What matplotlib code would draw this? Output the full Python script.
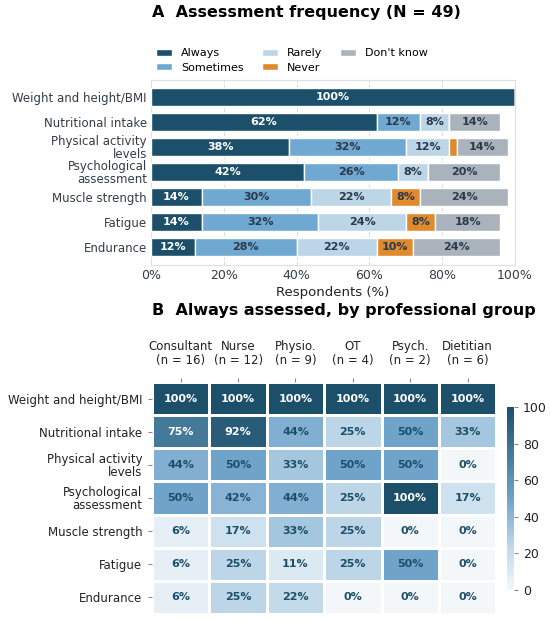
import matplotlib.pyplot as plt
import numpy as np
from matplotlib.colors import LinearSegmentedColormap

# panel A data (% of respondents)
items = ["Weight and height/BMI", "Nutritional intake", "Physical activity\nlevels",
         "Psychological\nassessment", "Muscle strength", "Fatigue", "Endurance"]
categories = ["Always", "Sometimes", "Rarely", "Never", "Don't know"]
always = [100, 62, 38, 42, 14, 14, 12]
sometimes = [0, 12, 32, 26, 30, 32, 28]
rarely = [0, 8, 12, 8, 22, 24, 22]
never = [0, 0, 2, 0, 8, 8, 10]
dont_know = [0, 14, 14, 20, 24, 18, 24]
cat_colors = ["#1b4f6a", "#6fa8d0", "#bcd6e8", "#e08a2e", "#aab3bc"]

# panel B data (% always assessed)
groups = ["Consultant\n(n = 16)", "Nurse\n(n = 12)", "Physio.\n(n = 9)",
          "OT\n(n = 4)", "Psych.\n(n = 2)", "Dietitian\n(n = 6)"]
heat = np.array([
    [100, 100, 100, 100, 100, 100],
    [75, 92, 44, 25, 50, 33],
    [44, 50, 33, 50, 50, 0],
    [50, 42, 44, 25, 100, 17],
    [6, 17, 33, 25, 0, 0],
    [6, 25, 11, 25, 50, 0],
    [6, 25, 22, 0, 0, 0],
])

dark = "#1b4f6a"
txt = "#333c46"

fig = plt.figure(figsize=(5.5, 6.19), dpi=100)

# ---- A ----
ax = fig.add_axes([0.2745, 0.5719, 0.6618, 0.2989])
series = [always, sometimes, rarely, never, dont_know]
y = np.arange(len(items))
left = np.zeros(len(items))
for name, vals, col in zip(categories, series, cat_colors):
    vals = np.array(vals, dtype=float)
    ax.barh(y, vals, left=left, height=0.7, color=col, edgecolor="white",
            linewidth=1, label=name, zorder=3)
    for yi, (l, v) in enumerate(zip(left, vals)):
        if v >= 5:
            ax.text(l + v / 2, yi, f"{v:.0f}%", ha="center", va="center",
                    fontsize=8, fontweight="bold",
                    color="white" if name == "Always" else "#2b3a4a", zorder=4)
    left += vals

ax.set_xlim(0, 100)
ax.set_ylim(6.72, -0.68)
ax.set_yticks(y)
ax.set_yticklabels(items, fontsize=8.5, color=txt, linespacing=1.0)
ax.set_xticks(np.arange(0, 101, 20))
ax.set_xticklabels([f"{v}%" for v in range(0, 101, 20)], fontsize=9, color=txt)
ax.set_xlabel("Respondents (%)", fontsize=9.5, color="#222222", labelpad=3)
ax.tick_params(axis="y", length=0, pad=3)
ax.tick_params(axis="x", length=0, pad=3)
ax.grid(axis="x", linestyle="--", color="#dddddd", linewidth=0.8, zorder=0)
for s in ax.spines.values():
    s.set_color("#dde1e6")
ax.legend(loc="lower left", bbox_to_anchor=(-0.005, 1.0), ncol=3, frameon=False,
          fontsize=8, handlelength=1.45, handleheight=0.6, columnspacing=1.6,
          labelspacing=0.4, borderaxespad=0.25)
fig.text(0.276, 1 - 12 / 619, "A  Assessment frequency (N = 49)", fontsize=11.5,
         fontweight="bold", va="center", ha="left")

# ---- B ----
cmap = LinearSegmentedColormap.from_list(
    "bl", [(0, "#f4f7fa"), (0.25, "#bcd6e8"), (0.5, "#6fa3ca"), (1, dark)])
axh = fig.add_axes([0.2764, 0.0081, 0.626, 0.3748])
mesh = axh.pcolormesh(np.arange(heat.shape[1] + 1), np.arange(heat.shape[0] + 1),
                      heat, cmap=cmap, vmin=0, vmax=100, edgecolors="white",
                      linewidth=2)
axh.set_xlim(0, heat.shape[1])
axh.set_ylim(heat.shape[0], 0)
for i in range(heat.shape[0]):
    for j in range(heat.shape[1]):
        v = heat[i, j]
        axh.text(j + 0.5, i + 0.5, f"{v}%", ha="center", va="center", fontsize=8,
                 fontweight="bold", color="white" if v >= 70 else dark)
axh.xaxis.tick_top()
axh.set_xticks(np.arange(heat.shape[1]) + 0.5)
axh.set_xticklabels(groups, fontsize=8.5, color="#222222", linespacing=1.05)
axh.set_yticks(np.arange(heat.shape[0]) + 0.5)
axh.set_yticklabels(items, fontsize=8.5, color="#222222", linespacing=1.0)
axh.tick_params(axis="x", length=3, color="#888888", pad=8)
axh.tick_params(axis="y", length=3, color="#888888", pad=4)
for s in axh.spines.values():
    s.set_visible(False)

cax = fig.add_axes([0.922, 0.0468, 0.0127, 0.2957])
cb = fig.colorbar(mesh, cax=cax, ticks=np.arange(0, 101, 20))
cb.outline.set_visible(False)
cax.tick_params(labelsize=9, length=3, color="#888888", labelcolor="#222222")
fig.text(0.276, 1 - 310 / 619, "B  Always assessed, by professional group",
         fontsize=11.5, fontweight="bold", va="center", ha="left")

fig.savefig("out.png", dpi=100)
